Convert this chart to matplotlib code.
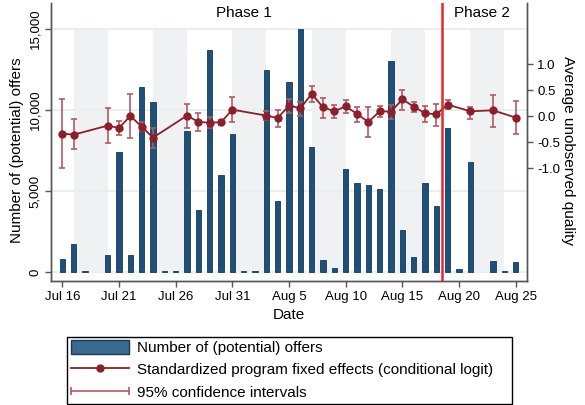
import numpy as np
import matplotlib.pyplot as plt
from matplotlib.lines import Line2D
from matplotlib.patches import Patch, Rectangle
from matplotlib.legend_handler import HandlerLine2D

plt.rcParams['font.family'] = ['Liberation Sans', 'DejaVu Sans']

# day offsets from Jul 16
offer_days = [0, 1, 2, 4, 5, 6, 7, 8, 9, 10, 11, 12, 13, 14, 15, 16, 17, 18, 19, 20,
              21, 22, 23, 24, 25, 26, 27, 28, 29, 30, 31, 32, 33, 34, 35, 36, 38, 39, 40]
offers = [800, 1700, 50, 1050, 7400, 1030, 11450, 10500, 40, 40, 8700, 3800, 13700, 6000,
          8500, 40, 40, 12500, 4400, 11750, 15000, 7700, 720, 270, 6350, 5500, 5400, 5100,
          13000, 2600, 950, 5500, 4050, 8900, 180, 6800, 660, 80, 600]

fe_days = [0, 1, 4, 5, 6, 7, 8, 11, 12, 13, 14, 15, 18, 19, 20, 21, 22, 23, 24, 25,
           26, 27, 28, 29, 30, 31, 32, 33, 34, 36, 38, 40]
fe = [-0.333, -0.353, -0.18, -0.224, 0.006, -0.2, -0.41, 0.013, -0.109, -0.122, -0.115,
      0.128, 0.013, -0.032, 0.205, 0.154, 0.43, 0.173, 0.096, 0.192, 0.045, -0.109, 0.096,
      0.09, 0.327, 0.186, 0.058, 0.038, 0.224, 0.096, 0.115, -0.026]
ci_lo = [-0.987, -0.635, -0.52, -0.36, -0.41, -0.28, -0.61, -0.218, -0.28, -0.23, -0.16,
         -0.115, -0.077, -0.2, 0.058, 0.006, 0.276, -0.03, -0.03, 0.058, -0.109, -0.39,
         -0.02, -0.05, 0.128, 0.083, -0.109, -0.18, 0.135, -0.05, -0.2, -0.333]
ci_hi = [0.327, -0.058, 0.167, -0.09, 0.42, -0.11, -0.23, 0.23, 0.058, -0.013, -0.077,
         0.365, 0.1, 0.12, 0.34, 0.27, 0.577, 0.36, 0.21, 0.314, 0.18, 0.173, 0.2, 0.21,
         0.51, 0.28, 0.205, 0.244, 0.308, 0.173, 0.417, 0.29]

shade_starts = [1, 8, 15, 22, 29, 36]
tick_days = [0, 5, 10, 15, 20, 25, 30, 35, 40]
tick_labels = ['Jul 16', 'Jul 21', 'Jul 26', 'Jul 31', 'Aug 5', 'Aug 10', 'Aug 15',
               'Aug 20', 'Aug 25']
phase_break = 33.5

navy = '#1f5077'
cran = '#8c1f2c'
ci_c = '#b05a66'
spine_c = '#555555'

fig = plt.figure(figsize=(5.85, 4.05), dpi=100)
ax = fig.add_axes([0.0872, 0.3074, 0.8137, 0.6845])
ax2 = ax.twinx()

# shaded bands and grid
ax.bar(shade_starts, [15000] * len(shade_starts), width=3, align='edge',
       color='#eff1f3', zorder=0)
for v in [0, 5000, 10000, 15000]:
    ax.axhline(v, color='#e6eff1', lw=1.5, zorder=0.5)

ax.bar(offer_days, offers, width=0.48, color=navy, edgecolor='#163a58', lw=0.6, zorder=2)

ax.set_xlim(-1, 41)
ax.set_ylim(-525, 16590)
ax.set_yticks([0, 5000, 10000, 15000])
ax.set_yticklabels(['0', '5,000', '10,000', '15,000'], rotation=90, va='center')
ax.set_xticks(tick_days)
ax.set_xticklabels(tick_labels)
ax.tick_params(axis='both', labelsize=9.5, length=4, color=spine_c, width=1)
ax.tick_params(axis='y', pad=3)
ax.set_xlabel('Date', fontsize=11, labelpad=4)
ax.set_ylabel('Number of (potential) offers', fontsize=11, va='center')
ax.yaxis.set_label_coords(-0.072, 0.47)

# fixed effects with CI
fe_arr = np.array(fe)
yerr = [fe_arr - np.array(ci_lo), np.array(ci_hi) - fe_arr]
ax2.errorbar(fe_days, fe, yerr=yerr, fmt='none', ecolor=ci_c, elinewidth=1.2,
             capsize=2.5, capthick=1.2, zorder=3)
ax2.plot(fe_days, fe, color=cran, lw=1.3, marker='o', ms=5, zorder=4)
ax2.axvline(phase_break, color='#e8262c', lw=1.8, zorder=5)
ax2.set_ylim(-3.158, 2.173)
ax2.set_yticks([-1.0, -0.5, 0.0, 0.5, 1.0])
ax2.set_yticklabels(['-1.0', '-0.5', '0.0', '0.5', '1.0'])
ax2.tick_params(axis='y', labelsize=9.5, length=4, color=spine_c, width=1)
ax2.set_ylabel('Average unobserved quality', fontsize=11, rotation=270, va='center')
ax2.yaxis.set_label_coords(1.086, 0.47)

ax2.text(16, 15990, 'Phase 1', transform=ax.transData, ha='center', va='center', fontsize=11)
ax2.text(37, 15990, 'Phase 2', transform=ax.transData, ha='center', va='center', fontsize=11)

for a in (ax, ax2):
    a.spines['top'].set_visible(False)
    for s in ('left', 'right', 'bottom'):
        a.spines[s].set_color(spine_c)
        a.spines[s].set_linewidth(1)

# legend, with its box drawn separately (wider on the right like the original)
h_bar = Patch(facecolor='#3a6a8f', edgecolor='#163a58')
h_fe = Line2D([], [], color=cran, lw=1.3, marker='o', ms=5)
h_ci = Line2D([], [], color=ci_c, lw=1.2, marker='|', ms=6, mew=1.2)
labels = ['Number of (potential) offers',
          'Standardized program fixed effects (conditional logit)',
          '95% confidence intervals']
leg = fig.legend([h_bar, h_fe, h_ci], labels, loc='upper left',
                 bbox_to_anchor=(71 / 585, 1 - 340 / 405),
                 handler_map={h_ci: HandlerLine2D(numpoints=2, marker_pad=0)},
                 fontsize=11, frameon=False, handlelength=3.8, handleheight=1.0,
                 labelspacing=0.48, borderpad=0, borderaxespad=0, handletextpad=0.55)
fig.patches.append(Rectangle((66.7 / 585, 1 / 405), 445 / 585, 67 / 405,
                             transform=fig.transFigure, fill=False,
                             edgecolor='black', lw=1))

fig.savefig('out.png', dpi=100)
